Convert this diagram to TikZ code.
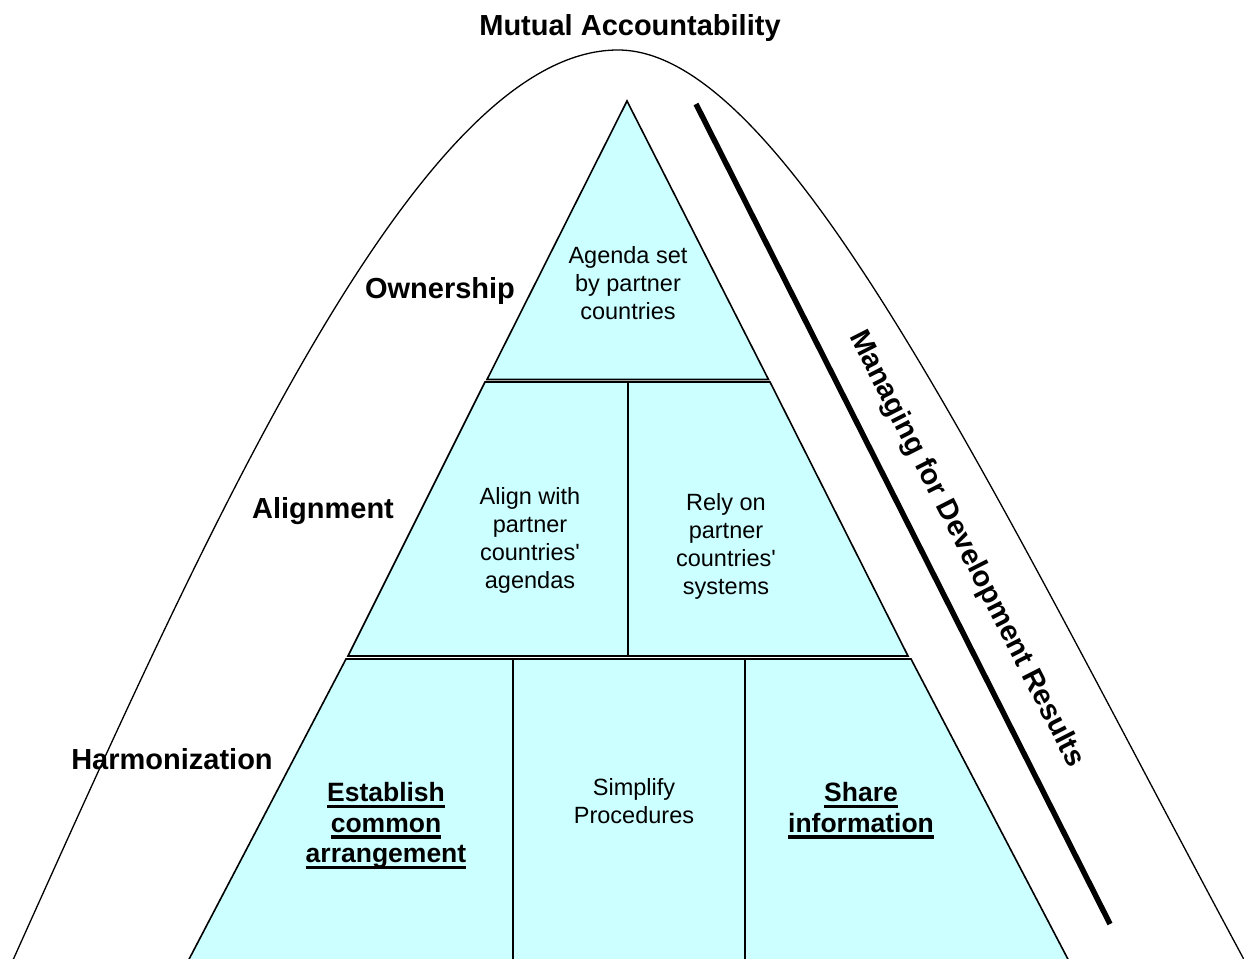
\documentclass[tikz,border=0pt]{standalone}
\usepackage{fontspec}
\setmainfont{Liberation Sans}[Ligatures=TeXOff]
\definecolor{cellfill}{RGB}{204,255,255}
\newcommand\ulin[1]{\setbox0=\hbox{#1}\rlap{\vrule height -3pt depth 6.5pt width \wd0}\box0}
\tikzset{
  cell/.style={draw=black, fill=cellfill, line width=1.6pt, line join=miter},
  curveline/.style={draw=black, line width=1.3pt},
  lbl/.style={font=\fontsize{29}{33}\selectfont\bfseries, inner sep=0pt},
  celltext/.style={font=\fontsize{23.5}{28}\selectfont, align=center, inner sep=0pt},
  boldcell/.style={font=\fontsize{26.5}{30.5}\selectfont\bfseries, align=center, inner sep=0pt},
  mfdr/.style={draw=black, line width=5.5pt}
}
\begin{document}
\begin{tikzpicture}[x=1pt,y=-1pt]
\useasboundingbox (0,0) rectangle (1244,958);
\fill[white] (0,0) rectangle (1244,958);
\clip (0,0) rectangle (1244,958);

% bell curve
\coordinate (cL) at (4,980);
\coordinate (cP) at (618,50);
\coordinate (cR) at (1255,980);
\draw[curveline] (cL) .. controls (206.5,530) and (418,50) .. (cP)
                      .. controls (788,50) and (996,500) .. (cR);

% pyramid cells
\draw[cell] (627,101) -- (768.5,379.5) -- (487,379.5) -- cycle;
\draw[cell] (485,382) -- (628,382) -- (628,656) -- (348,656) -- cycle;
\draw[cell] (628,382) -- (770,382) -- (908,656) -- (628,656) -- cycle;
\draw[cell] (346,659) -- (513,659) -- (513,965) -- (186,965) -- cycle;
\draw[cell] (513,659) -- (745,659) -- (745,965) -- (513,965) -- cycle;
\draw[cell] (745,659) -- (911,659) -- (1071,965) -- (745,965) -- cycle;

% thick diagonal
\coordinate (mA) at (696,104);
\coordinate (mB) at (1110,924);
\draw[mfdr] (mA) -- (mB);

% labels
\node[lbl, anchor=base] (title) at (630,36) {Mutual Accountability};
\node[lbl, anchor=base] (own) at (440,298) {Ownership};
\node[lbl, anchor=base] (ali) at (323,518) {Alignment};
\node[lbl, anchor=base] (har) at (172,769) {Harmonization};
\node[lbl, rotate=-63] (mfdrtext) at (966,549) {Managing for Development Results};

% cell texts
\node[celltext] (agenda) at (628,283.5) {Agenda set\\by partner\\countries};
\node[celltext] (alignw) at (530,540) {Align with\\partner\\countries'\\agendas};
\node[celltext] (rely) at (726,546) {Rely on\\partner\\countries'\\systems};
\node[celltext] (simp) at (634,801) {Simplify\\Procedures};
\node[boldcell] (estab) at (386,826) {\ulin{Establish}\\\ulin{common}\\\ulin{arrangement}};
\node[boldcell] (share) at (861,810.5) {\ulin{Share}\\\ulin{information}};
\end{tikzpicture}
\end{document}
